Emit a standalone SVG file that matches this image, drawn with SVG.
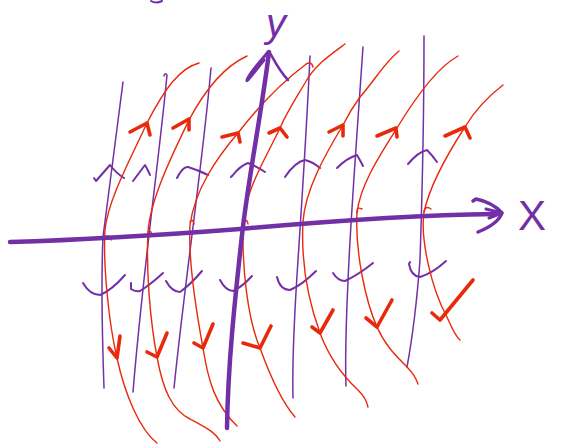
<svg xmlns="http://www.w3.org/2000/svg" width="562" height="448" viewBox="0 0 562 448">
<style>
.p{fill:none;stroke:#7330a6;stroke-linecap:round;stroke-linejoin:round}
.thin{stroke-width:1.5}
.mark{stroke-width:2}
.axis{stroke-width:4.5}
.r{fill:none;stroke:#e8290b;stroke-linecap:round;stroke-linejoin:round;stroke-width:1.4}
.ar{fill:none;stroke:#e8290b;stroke-linecap:round;stroke-linejoin:round;stroke-width:3.6}
.lbl{fill:#7330a6;font-family:"Liberation Sans",sans-serif}
</style>
<rect width="562" height="448" fill="#ffffff"/>
<path class="p mark" d="M151 1 Q156 4 162 1"/>
<g id="verticals">
<path class="p thin" d="M123 82 L103 237 C101 280 102 330 104 388"/>
<path class="p thin" d="M164 76 Q165 72 167 75 C159 160 143 270 133 392"/>
<path class="p thin" d="M211 68 C203 160 185 280 174 388"/>
<path class="p thin" d="M310 56 C307 120 302 200 298 260 C294 320 292 360 293 398"/>
<path class="p thin" d="M363 47 C358 120 352 200 349 260 C346 320 345 360 346 386"/>
<path class="p thin" d="M424 36 C424 120 422 200 420 260 C417 300 412 340 407 367"/>
</g>
<g id="upper-marks">
<path class="p mark" d="M94 178 L96 181 L110 165 Q116 173 124 178"/>
<path class="p mark" d="M133 181 L145 165 Q148 170 150 175"/>
<path class="p mark" d="M177 178 Q183 166 188 167 Q198 170 208 175"/>
<path class="p mark" d="M231 177 L233 175 Q240 166 248 163 Q256 166 265 172"/>
<path class="p mark" d="M285 177 Q295 162 305 160 Q313 162 320 168"/>
<path class="p mark" d="M337 168 Q347 158 357 155 Q360 160 363 166"/>
<path class="p mark" d="M408 164 Q418 152 427 150 Q432 155 437 162"/>
</g>
<g id="lower-marks">
<path class="p mark" d="M83 283 Q90 295 100 295 Q112 290 125 275"/>
<path class="p mark" d="M131 283 L131 289 Q135 292 140 291 Q150 285 163 273"/>
<path class="p mark" d="M166 281 Q172 292 180 292 Q190 285 202 271"/>
<path class="p mark" d="M220 280 Q226 291 233 291 Q242 287 252 276"/>
<path class="p mark" d="M277 277 Q280 290 290 290 Q302 285 316 271"/>
<path class="p mark" d="M333 273 Q338 281 345 281 Q358 275 373 263"/>
<path class="p mark" d="M410 262 L409 264 Q411 276 420 277 Q433 273 446 261"/>
</g>
<g id="red-curves">
<path class="r" d="M199 63 C180 68 165 88 147 123 C130 160 108 200 105 230 C103 260 108 320 117 358 C125 395 140 430 157 443"/>
<path class="r" d="M247 56 C225 66 205 90 189 120 C172 155 150 200 148 232 C146 270 150 320 157 357 C163 390 172 410 190 419 C205 427 215 432 220 441"/>
<path class="r" d="M313 67 C312 62 308 62 305 65 C285 80 262 102 238 133 C215 160 195 190 190 225 C188 260 196 310 203 348 C208 380 215 405 237 426"/>
<path class="r" d="M345 44 C330 55 315 65 305 83 C295 100 287 112 280 128 C265 160 245 190 243 225 C242 270 248 320 260 348 C268 370 280 400 295 417"/>
<path class="r" d="M399 51 C385 62 375 80 360 97 C352 108 348 115 343 125 C325 155 305 190 303 222 C301 260 308 300 320 333 C330 360 345 378 358 390 C364 396 367 402 368 407"/>
<path class="r" d="M458 56 C440 66 420 90 397 128 C380 155 360 185 357 213 C355 250 365 300 377 327 C385 345 395 355 407 367 C412 372 416 378 418 384"/>
<path class="r" d="M503 85 C490 95 475 110 465 127 C450 150 430 185 424 212 C420 240 432 290 447 317 C452 328 455 336 460 340"/>
<path class="r" d="M105 237 Q110 234 111 240"/>
<path class="r" d="M148 232 Q152 230 152 236"/>
<path class="r" d="M190 222 Q193 218 194 224"/>
<path class="r" d="M244 222 Q247 218 248 224"/>
<path class="r" d="M357 213 Q356 206 362 209"/>
<path class="r" d="M424 212 Q425 205 431 209"/>
</g>
<g id="red-arrows">
<path class="ar" d="M130 132 L147 123 L150 135"/>
<path class="ar" d="M173 128 L189 119 L189 130"/>
<path class="ar" d="M222 137 L238 133 L240 142"/>
<path class="ar" d="M269 133 L280 128 L287 137"/>
<path class="ar" d="M329 132 L343 125 L343 136"/>
<path class="ar" d="M377 136 L396 128 L397 137"/>
<path class="ar" d="M445 136 L465 127 L470 138"/>
<path class="ar" d="M109 348 L117 358 L120 336"/>
<path class="ar" d="M147 352 L157 357 L167 333"/>
<path class="ar" d="M194 343 L203 348 L213 324"/>
<path class="ar" d="M243 343 L260 348 L271 326"/>
<path class="ar" d="M312 327 L320 333 L333 310"/>
<path class="ar" d="M366 318 L377 327 L392 300"/>
<path class="ar" d="M432 313 L440 320 L473 280"/>
</g>
<g id="axes">
<path class="p axis" d="M10 242 C80 240 150 236 240 229 C330 221 420 215 495 214"/>
<path class="p" stroke-width="3.5" d="M473 201 L476 199 Q492 202 502 213 Q498 224 478 232"/>
<path class="p" stroke-width="3" d="M486 209 L502 213 L489 218"/>
<path class="p axis" d="M269 52 C262 110 248 180 242 235 C236 290 228 360 227 428"/>
<path class="p" stroke-width="3" d="M268 52 C260 62 250 72 247 80 C246 83 252 75 264 60"/>
<path class="p" stroke-width="2.5" d="M270 53 C275 62 280 72 288 80"/>
</g>
<text class="lbl" x="266" y="37" font-size="40" font-style="italic">y</text>
<text class="lbl" x="518" y="230" font-size="42">X</text>
</svg>
